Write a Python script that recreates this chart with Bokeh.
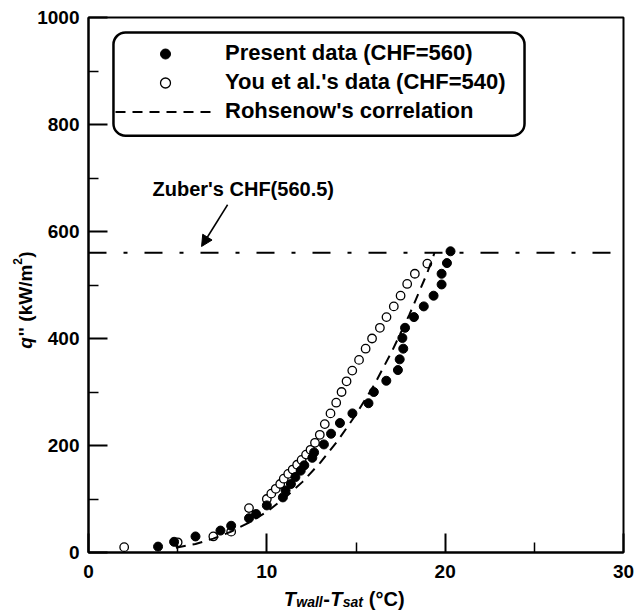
import math
from bokeh.plotting import figure
from bokeh.models import (Range1d, Label, Arrow, NormalHead, Legend, LegendItem,
                          FixedTicker, BoxAnnotation)
from bokeh.embed import file_html
from bokeh.resources import INLINE

# ---------------- data ----------------
present_dT = [3.9, 4.8, 6.0, 7.4, 8.0, 9.0, 9.4, 10.0, 10.9, 11.05, 11.35, 11.6, 11.9, 12.1,
              12.55, 12.65, 13.2, 13.6, 14.1, 14.8, 15.7, 16.0, 16.7, 17.35, 17.45, 17.65,
              17.6, 17.75, 18.25, 18.8, 19.35, 19.8, 19.8, 20.1, 20.3]
present_q = [11, 20, 30, 41, 50, 64, 72, 88, 103, 116, 128, 141, 153, 163,
             177, 187, 202, 222, 242, 260, 279, 300, 321, 341, 361, 381,
             401, 420, 440, 460, 480, 501, 521, 541, 563]

you_dT = [2.0, 5.0, 7.0, 8.0, 9.0, 10.0, 10.25, 10.5, 10.75, 10.95, 11.2, 11.45, 11.7, 11.95,
          12.2, 12.45, 12.7, 12.97, 13.25, 13.57, 13.89, 14.19, 14.47, 14.79, 15.17, 15.54,
          15.9, 16.34, 16.71, 17.12, 17.5, 17.87, 18.3, 19.0]
you_q = [10, 19, 30, 39, 83, 100, 110, 119, 128, 138, 147, 155, 164, 173,
         183, 192, 205, 220, 240, 260, 280, 300, 320, 340, 360, 381,
         400, 420, 440, 460, 480, 502, 521, 540]

rohsenow_dT = [4.9, 6, 7, 8, 9, 10, 11, 12, 13, 14, 15, 16, 17, 18, 19, 19.4]
rohsenow_q = [9, 16, 26, 39, 56, 76, 102, 132, 168, 210, 258, 312, 375, 445, 523, 560]

zuber_chf = 560.5
x_ticks = [0, 10, 20, 30]
y_ticks = [0, 200, 400, 600, 800, 1000]
legend_labels = ["Present data (CHF=560)", "You et al.'s data (CHF=540)", "Rohsenow's correlation"]
zuber_text = "Zuber's CHF(560.5)"

FONT = "Liberation Sans"
W, H = 634, 616
# plot box on the canvas (pixels)
BOX_L, BOX_R, BOX_T, BOX_B = 88, 623, 17, 552
x0, x1 = x_ticks[0], x_ticks[-1]
y0, y1 = y_ticks[0], y_ticks[-1]
kx = (BOX_R - BOX_L) / (x1 - x0)
ky = (BOX_B - BOX_T) / (y1 - y0)
xr = Range1d(x0 - BOX_L / kx, x1 + (W - BOX_R) / kx)
yr = Range1d(y0 - (H - BOX_B) / ky, y1 + BOX_T / ky)

p = figure(width=W, height=H, output_backend="svg", toolbar_location=None,
           x_range=xr, y_range=yr, title=None,
           min_border_left=0, min_border_right=0, min_border_top=0, min_border_bottom=0)
p.xgrid.visible = False
p.ygrid.visible = False
p.outline_line_alpha = 0
p.background_fill_color = "white"
p.border_fill_color = "white"

p.xaxis.ticker = FixedTicker(ticks=x_ticks,
                             minor_ticks=[(a + b) / 2 for a, b in zip(x_ticks, x_ticks[1:])])
p.yaxis.ticker = FixedTicker(ticks=y_ticks,
                             minor_ticks=[(a + b) / 2 for a, b in zip(y_ticks, y_ticks[1:])])
p.xaxis.fixed_location = y0
p.yaxis.fixed_location = x0
p.xaxis.bounds = (x0, x1)
p.yaxis.bounds = (y0, y1)
for ax in (p.xaxis, p.yaxis):
    ax.major_tick_in = 19
    ax.major_tick_out = 0
    ax.minor_tick_in = 10
    ax.minor_tick_out = 0
    ax.axis_line_width = 2
    ax.axis_line_color = "black"
    ax.major_tick_line_width = 2
    ax.major_tick_line_color = "black"
    ax.minor_tick_line_width = 1.5
    ax.minor_tick_line_color = "black"
    ax.major_label_text_font = FONT
    ax.major_label_text_font_style = "bold"
    ax.major_label_text_font_size = "19px"
    ax.major_label_text_color = "black"
p.xaxis.major_label_standoff = 12
p.yaxis.major_label_standoff = 9

# plot box (top and right sides)
p.add_layout(BoxAnnotation(left=x0, right=x1, bottom=y0, top=y1, fill_alpha=0,
                           line_color="black", line_alpha=1.0, line_width=2))

# Zuber CHF line
p.line([x0, x1], [zuber_chf, zuber_chf], line_color="black", line_width=2,
       line_dash="18 17 4 17")

r_you = p.scatter(you_dT, you_q, marker="circle", size=8.5, fill_color="white",
                  line_color="black", line_width=1.3)
r_present = p.scatter(present_dT, present_q, marker="circle", size=9,
                      fill_color="black", line_color="black")
r_roh = p.line(rohsenow_dT, rohsenow_q, line_color="black", line_width=2, line_dash="10 7")

# legend
legend = Legend(items=[LegendItem(label=legend_labels[0], renderers=[r_present]),
                       LegendItem(label=legend_labels[1], renderers=[r_you]),
                       LegendItem(label=legend_labels[2], renderers=[r_roh])],
                location=(103, 480), padding=12, spacing=3, glyph_width=100, glyph_height=25,
                label_height=25, label_standoff=10, label_text_font=FONT,
                label_text_font_style="bold", label_text_font_size="22px",
                label_text_color="black",
                border_line_alpha=0, background_fill_alpha=0, margin=0)
p.add_layout(legend)

box = BoxAnnotation(left=1.40, right=24.45, top=972, bottom=779, fill_alpha=0,
                    line_color="black", line_alpha=1.0, line_width=2.5)
try:
    box.border_radius = 12
except Exception:
    pass
p.add_layout(box)

# Zuber annotation
p.add_layout(Label(x=3.59, y=680, text=zuber_text, text_font=FONT, text_font_style="bold",
                   text_font_size="20px", text_baseline="middle", text_color="black"))
p.add_layout(Arrow(end=NormalHead(size=11, fill_color="black", line_color="black"),
                   x_start=7.8, y_start=650, x_end=6.34, y_end=572,
                   line_color="black", line_width=1.5))

# x-axis title: T_wall - T_sat (°C)
xt_x, xt_y = 10.95, -87
for txt, off, yoff, size, style in [("T", 0, 0, "20px", "bold italic"),
                                    ("wall", 12.5, -3, "14px", "bold italic"),
                                    ("-", 39.5, 0, "20px", "bold"),
                                    ("T", 46.5, 0, "20px", "bold italic"),
                                    ("sat", 59, -3, "14px", "bold italic"),
                                    ("(°C)", 85, 0, "20px", "bold")]:
    p.add_layout(Label(x=xt_x, y=xt_y, x_offset=off, y_offset=yoff, text=txt, text_font=FONT,
                       text_font_style=style, text_font_size=size, text_baseline="alphabetic",
                       text_align="left", text_color="black"))

# y-axis title: q'' (kW/m2), rotated
yt_x, yt_y = -3.55, 381
for txt, off, xoff, size, style in [("q", 0, 0, "19px", "bold italic"),
                                    ("''", 12.5, 0, "19px", "bold"),
                                    ("(kW/m", 27, 0, "19px", "bold"),
                                    ("2", 84, -8, "12px", "bold"),
                                    (")", 91, 0, "19px", "bold")]:
    p.add_layout(Label(x=yt_x, y=yt_y, x_offset=xoff, y_offset=off, text=txt, text_font=FONT,
                       text_font_style=style, text_font_size=size, text_baseline="alphabetic",
                       text_align="left", angle=math.pi / 2, text_color="black"))

open("out.html", "w").write(file_html(p, INLINE))
